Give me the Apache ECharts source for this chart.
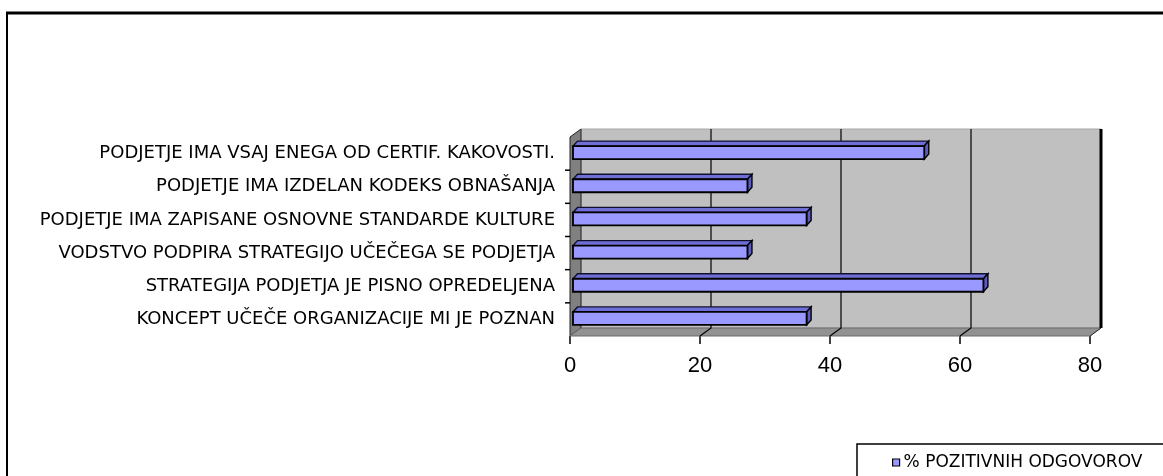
<!DOCTYPE html>
<html>
<head>
<meta charset="utf-8">
<script src="https://cdn.jsdelivr.net/npm/echarts@6/dist/echarts.min.js"></script>
<style>
  html, body { margin: 0; padding: 0; background: #ffffff; }
  #chart { width: 1163px; height: 476px; }
</style>
</head>
<body>
<div id="chart"></div>
<script>
// Survey statements (top to bottom) and share of positive answers, in %
const categories = [
  'PODJETJE IMA VSAJ ENEGA OD CERTIF. KAKOVOSTI.',
  'PODJETJE IMA IZDELAN KODEKS OBNAŠANJA',
  'PODJETJE IMA ZAPISANE OSNOVNE STANDARDE KULTURE',
  'VODSTVO PODPIRA STRATEGIJO UČEČEGA SE PODJETJA',
  'STRATEGIJA PODJETJA JE PISNO OPREDELJENA',
  'KONCEPT UČEČE ORGANIZACIJE MI JE POZNAN'
];
const positivePct = [54.5, 27.3, 36.4, 27.3, 63.6, 36.4];
const valueTicks = [0, 20, 40, 60, 80];
const seriesName = '% POZITIVNIH ODGOVOROV';

// pseudo-3D depth of the walls and of the bars (pixels)
const WALL_DX = 11, WALL_DY = -8;
const BAR_DX = 4.5, BAR_DY = -5;
const BAR_H = 13;

const chart = echarts.init(document.getElementById('chart'), null, { renderer: 'canvas' });

function renderWalls(params, api) {
  const cs = params.coordSys;
  const x0 = api.coord([valueTicks[0], 0])[0];
  const x1 = api.coord([valueTicks[valueTicks.length - 1], 0])[0];
  const top = cs.y, bottom = cs.y + cs.height;
  const bx0 = x0 + WALL_DX, bx1 = x1 + WALL_DX;
  const btop = top + WALL_DY, bbot = bottom + WALL_DY;
  const children = [
    { type: 'polygon', shape: { points: [[bx0, btop], [bx1, btop], [bx1, bbot], [bx0, bbot]] },
      style: { fill: '#c0c0c0', stroke: '#a8a8a8', lineWidth: 1 } },
    { type: 'polygon', shape: { points: [[x0, top], [bx0, btop], [bx0, bbot], [x0, bottom]] },
      style: { fill: '#808080', stroke: '#222', lineWidth: 1 } },
    { type: 'polygon', shape: { points: [[x0, bottom], [x1, bottom], [bx1, bbot], [bx0, bbot]] },
      style: { fill: '#929292', stroke: '#6a6a6a', lineWidth: 1 } }
  ];
  valueTicks.slice(1, -1).forEach(function (t) {
    const x = api.coord([t, 0])[0];
    children.push({ type: 'polyline',
      shape: { points: [[x + WALL_DX, btop], [x + WALL_DX, bbot], [x, bottom]] },
      style: { stroke: '#000', lineWidth: 1.2, fill: null } });
  });
  children.push({ type: 'line', shape: { x1: bx1, y1: btop, x2: bx1, y2: bbot },
    style: { stroke: '#000', lineWidth: 3 } });
  children.push({ type: 'line', shape: { x1: bx1, y1: bbot, x2: x1, y2: bottom },
    style: { stroke: '#333', lineWidth: 1 } });
  // category ticks between neighbouring rows only
  for (let i = 1; i < categories.length; i++) {
    const y = (api.coord([0, i - 1])[1] + api.coord([0, i])[1]) / 2;
    children.push({ type: 'line', shape: { x1: x0 - 5, y1: y, x2: x0, y2: y },
      style: { stroke: '#000', lineWidth: 1.5 } });
  }
  return { type: 'group', children: children };
}

function renderBar(params, api) {
  const v = api.value(0), i = api.value(1);
  const start = api.coord([0, i]);
  const end = api.coord([v, i]);
  const xs = start[0] + 3, xe = end[0];
  const yc = start[1] - 1;
  const yt = yc - BAR_H / 2, yb = yc + BAR_H / 2;
  return {
    type: 'group',
    children: [
      { type: 'polygon',
        shape: { points: [[xs, yt], [xe, yt], [xe + BAR_DX, yt + BAR_DY], [xs + BAR_DX, yt + BAR_DY]] },
        style: { fill: '#6e6ed4', stroke: '#10102e', lineWidth: 1.4 } },
      { type: 'polygon',
        shape: { points: [[xe, yt], [xe + BAR_DX, yt + BAR_DY], [xe + BAR_DX, yb + BAR_DY], [xe, yb]] },
        style: { fill: '#5c5cbf', stroke: '#000', lineWidth: 1.4 } },
      { type: 'rect',
        shape: { x: xs, y: yt, width: xe - xs, height: BAR_H },
        style: { fill: '#9999ff', stroke: '#000', lineWidth: 1.8 } }
    ]
  };
}

const option = {
  backgroundColor: '#ffffff',
  animation: false,
  textStyle: { fontFamily: 'DejaVu Sans' },
  grid: { left: 570, right: 73, top: 137, height: 199 },
  xAxis: {
    type: 'value',
    min: valueTicks[0],
    max: valueTicks[valueTicks.length - 1],
    interval: 20,
    axisLine: { show: false },
    axisTick: { show: true, length: 8, lineStyle: { color: '#000', width: 1.5 } },
    splitLine: { show: false },
    axisLabel: { color: '#000', fontSize: 22, fontFamily: 'Liberation Sans', margin: 19 }
  },
  yAxis: {
    type: 'category',
    inverse: true,
    data: categories,
    axisLine: { show: false },
    axisTick: { show: false },
    axisLabel: { color: '#000', fontSize: 18, fontFamily: 'DejaVu Sans', margin: 15 }
  },
  legend: {
    show: true,
    left: 857,
    top: 444,
    padding: [10, 80, 14, 35],
    borderColor: '#000',
    borderWidth: 1.5,
    backgroundColor: '#fff',
    icon: 'rect',
    itemWidth: 7,
    itemHeight: 7,
    itemGap: 4,
    textStyle: { color: '#000', fontSize: 17, fontFamily: 'DejaVu Sans', padding: [0, 0, 0, -1] },
    data: [{ name: seriesName, itemStyle: { color: '#9999ff', borderColor: '#000', borderWidth: 1.2 } }]
  },
  graphic: [
    { type: 'line', shape: { x1: 6, y1: 13, x2: 1163, y2: 13 }, style: { stroke: '#000', lineWidth: 3 } },
    { type: 'line', shape: { x1: 7, y1: 12, x2: 7, y2: 476 }, style: { stroke: '#000', lineWidth: 2 } }
  ],
  series: [
    {
      name: 'walls',
      type: 'custom',
      silent: true,
      z: 1,
      renderItem: renderWalls,
      data: [[0, 0]],
      encode: { x: 0, y: 1 }
    },
    {
      name: seriesName,
      type: 'custom',
      z: 2,
      itemStyle: { color: '#9999ff' },
      renderItem: renderBar,
      data: positivePct.map(function (v, i) { return [v, i]; }),
      encode: { x: 0, y: 1 }
    }
  ]
};

chart.setOption(option);
</script>
</body>
</html>
